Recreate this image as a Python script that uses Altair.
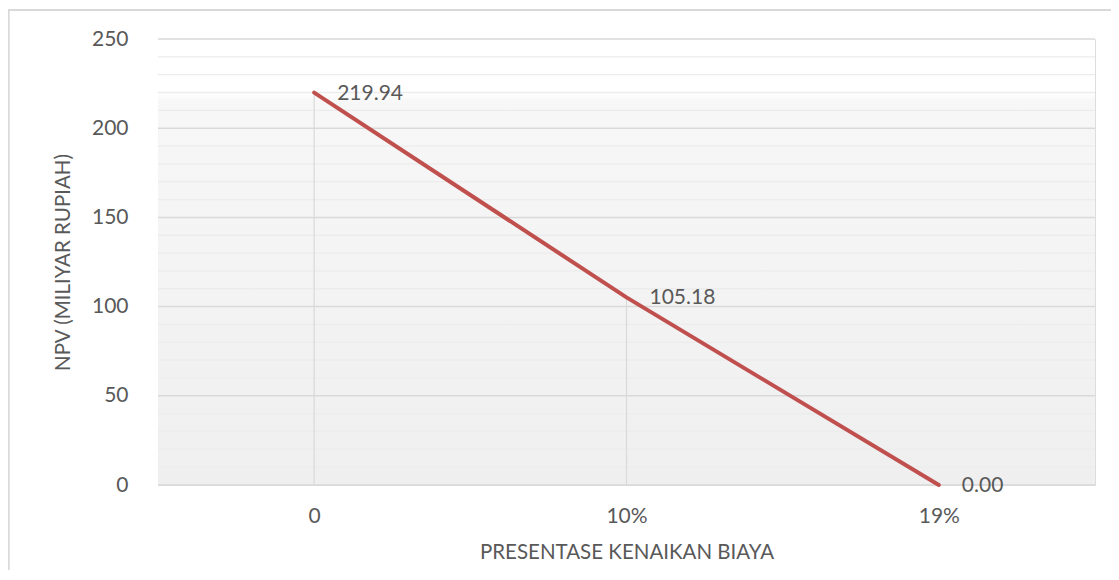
import altair as alt
import pandas as pd

# ---- data ----
categories = ["0", "10%", "19%"]
npv = [219.94, 105.18, 0.00]
point_labels = ["219.94", "105.18", "0.00"]
y_major = [0, 50, 100, 150, 200, 250]
y_minor = [10, 20, 30, 40, 60, 70, 80, 90, 110, 120, 130, 140,
           160, 170, 180, 190, 210, 220, 230, 240]

W, H = 937, 446
FONT = "Lato"
TXT = "#595959"
GRID = "#d9d9d9"
MINOR = "#ececec"
RED = "#c0504d"

df = pd.DataFrame({"cat": categories, "npv": npv, "lab": point_labels})
major_df = pd.DataFrame({"v": y_major})
minor_df = pd.DataFrame({"v": y_minor})
one = pd.DataFrame({"a": [0]})

yscale = alt.Scale(domain=[0, 250], nice=False, zero=True)
xscale = alt.Scale(type="point", domain=categories, padding=0.5)

xaxis = alt.Axis(title="PRESENTASE KENAIKAN BIAYA", labelAngle=0, ticks=False,
                 domain=False, grid=False, labelPadding=20, labelFontSize=21,
                 labelFont=FONT, labelColor=TXT, titleFont=FONT, titleFontSize=20.5,
                 titleFontWeight="normal", titleColor=TXT, titlePadding=16)
yaxis = alt.Axis(title="NPV (MILIYAR RUPIAH)", values=y_major, ticks=False,
                 domain=False, grid=False, labelPadding=30, labelFontSize=21,
                 labelFont=FONT, labelColor=TXT, titleFont=FONT, titleFontSize=20.5,
                 titleFontWeight="normal", titleColor=TXT, titlePadding=18)

bg = alt.Chart(one).mark_rect(
    color=alt.Gradient(gradient="linear", x1=0, x2=0, y1=0, y2=1,
                       stops=[alt.GradientStop(offset=0, color="#ffffff"),
                              alt.GradientStop(offset=0.12, color="#ffffff"),
                              alt.GradientStop(offset=0.14, color="#f7f7f7"),
                              alt.GradientStop(offset=1, color="#efefef")])
).encode(x=alt.value(0), x2=alt.value(W),
         y=alt.datum(250, scale=yscale), y2=alt.datum(0))

minor = alt.Chart(minor_df).mark_rule(color=MINOR, strokeWidth=1.3).encode(
    y=alt.Y("v:Q", scale=yscale, axis=yaxis), x=alt.value(0), x2=alt.value(W))

major = alt.Chart(major_df).mark_rule(color=GRID, strokeWidth=1.5).encode(
    y=alt.Y("v:Q", scale=yscale, axis=yaxis), x=alt.value(0), x2=alt.value(W))

drops = alt.Chart(df).mark_rule(color=GRID, strokeWidth=1.2).encode(
    x=alt.X("cat:N", scale=xscale, axis=xaxis, sort=categories),
    y=alt.Y("npv:Q", scale=yscale, axis=yaxis), y2=alt.datum(0))

line = alt.Chart(df).mark_line(color=RED, strokeWidth=4, strokeCap="round").encode(
    x=alt.X("cat:N", scale=xscale, axis=xaxis, sort=categories),
    y=alt.Y("npv:Q", scale=yscale, axis=yaxis))

text = alt.Chart(df).mark_text(align="left", baseline="middle", dx=23, dy=1,
                               fontSize=21, font=FONT, color=TXT).encode(
    x=alt.X("cat:N", scale=xscale, axis=xaxis, sort=categories),
    y=alt.Y("npv:Q", scale=yscale, axis=yaxis), text="lab:N")

border_left = alt.Chart(one).mark_rule(color=GRID, strokeWidth=1.8, clip=False).encode(
    x=alt.value(-149.2), y=alt.value(-29), y2=alt.value(600))
border_top = alt.Chart(one).mark_rule(color=GRID, strokeWidth=1.8, clip=False).encode(
    x=alt.value(-150), x2=alt.value(1200), y=alt.value(-29))

chart = alt.layer(bg, minor, major, drops, line, text, border_left, border_top).properties(
    width=W, height=H,
    autosize=alt.AutoSizeParams(type="none"),
    padding={"left": 150, "top": 31, "right": 16, "bottom": 85},
).configure_view(stroke=None).configure(background="white")

chart.save("out.html", embed_options={"renderer": "svg", "actions": False})
